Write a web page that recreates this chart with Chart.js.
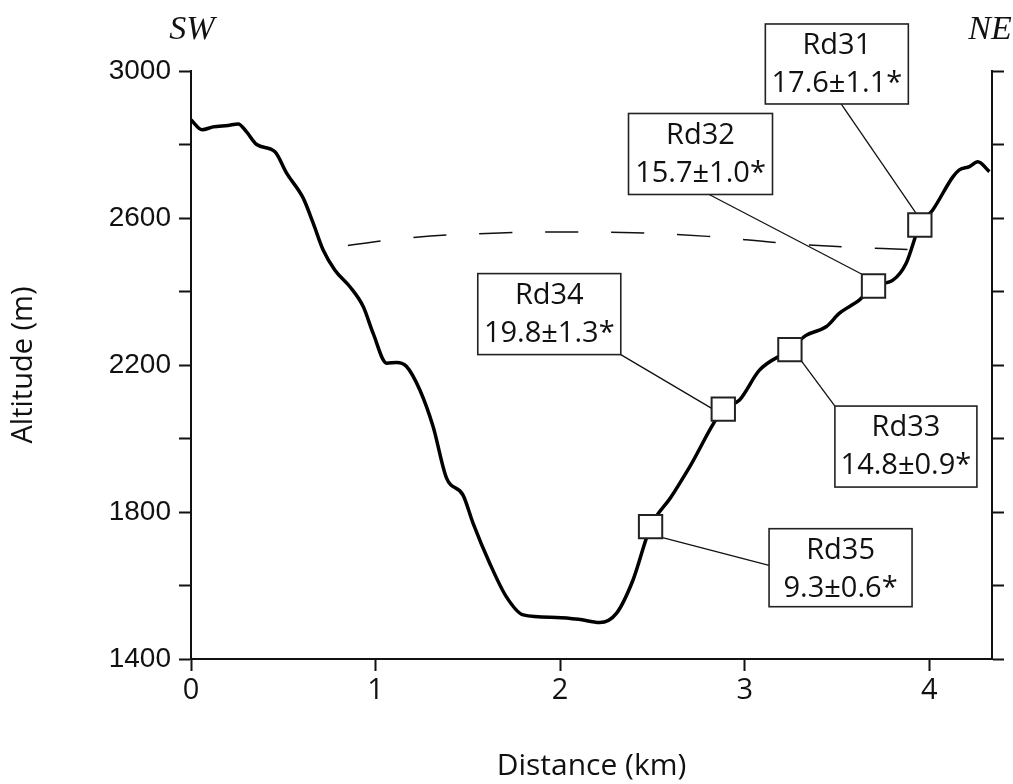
<!DOCTYPE html>
<html>
<head>
<meta charset="utf-8">
<script src="https://cdn.jsdelivr.net/npm/chart.js@4"></script>
<style>
  body { margin: 0; background: #fff; }
  #caja { width: 1013px; height: 784px; }
</style>
</head>
<body>
<div id="caja"><canvas id="perfil" width="1013" height="784"></canvas></div>
<script>
// perfil topografico SW -> NE
const distKm = [0, 0.06, 0.12, 0.2, 0.256, 0.3, 0.356, 0.455, 0.518, 0.608, 0.662, 0.716, 0.78, 0.861, 0.933, 0.987, 1.06, 1.114, 1.168, 1.24, 1.312, 1.384, 1.474, 1.528, 1.619, 1.709, 1.8, 1.98, 2.1, 2.214, 2.305, 2.395, 2.49, 2.6, 2.702, 2.884, 2.972, 3.08, 3.245, 3.33, 3.441, 3.514, 3.622, 3.698, 3.803, 3.875, 3.949, 4.019, 4.128, 4.163, 4.218, 4.263, 4.326];
const altitud = [2867, 2840, 2848, 2852, 2856, 2835, 2800, 2780, 2722, 2654, 2586, 2513, 2458, 2413, 2359, 2286, 2205, 2207, 2196, 2132, 2032, 1893, 1846, 1770, 1660, 1569, 1520, 1513, 1508, 1499, 1524, 1615, 1760, 1840, 1923, 2080, 2105, 2186, 2242, 2280, 2304, 2341, 2377, 2415, 2431, 2477, 2581, 2622, 2712, 2731, 2740, 2753, 2726];

// linea discontinua
const dashKm = [0.85, 1.2, 1.6, 2.0, 2.4, 2.8, 3.2, 3.6, 3.9];
const dashAlt = [2525, 2547, 2558, 2562, 2560, 2550, 2532, 2520, 2514];

// muestras
const etiquetas = ['Rd31', 'Rd32', 'Rd33', 'Rd34', 'Rd35'];
const valores = ['17.6±1.1*', '15.7±1.0*', '14.8±0.9*', '19.8±1.3*', '9.3±0.6*'];
const muestraKm = [3.949, 3.698, 3.245, 2.884, 2.49];
const muestraAlt = [2581, 2415, 2242, 2080, 1760];

const xTicks = [0, 1, 2, 3, 4];
const yTicks = [1400, 1800, 2200, 2600, 3000];

// posicion de cada caja respecto a su marcador (px)
const cajas = [
  { dx: -83, dy: -161, w: 143, h: 80, ax: 0.53, ay: 1, mx: -4, my: -12 },
  { dx: -173, dy: -132, w: 144, h: 81, ax: 0.56, ay: 1, mx: -12, my: -12 },
  { dx: 116, dy: 97, w: 142, h: 81, ax: 0, ay: 0, mx: 12, my: 12 },
  { dx: -174, dy: -95, w: 143, h: 81, ax: 1, ay: 1, mx: -12, my: -1 },
  { dx: 190, dy: 41, w: 143, h: 78, ax: 0, ay: 0.47, mx: 12, my: 11 }
];

const lineas = {
  id: 'lineas',
  beforeDatasetsDraw(chart) {
    const ctx = chart.ctx, x = chart.scales.x, y = chart.scales.y;
    ctx.save();
    ctx.strokeStyle = '#111';
    ctx.lineWidth = 1.3;
    cajas.forEach((c, i) => {
      const px = x.getPixelForValue(muestraKm[i]), py = y.getPixelForValue(muestraAlt[i]);
      const left = px + c.dx - c.w / 2, top = py + c.dy - c.h / 2;
      ctx.beginPath();
      ctx.moveTo(left + c.ax * c.w, top + c.ay * c.h);
      ctx.lineTo(px + c.mx, py + c.my);
      ctx.stroke();
    });
    ctx.restore();
  },
  afterDatasetsDraw(chart) {
    const ctx = chart.ctx, x = chart.scales.x, y = chart.scales.y;
    ctx.save();
    cajas.forEach((c, i) => {
      const px = x.getPixelForValue(muestraKm[i]), py = y.getPixelForValue(muestraAlt[i]);
      const left = px + c.dx - c.w / 2, top = py + c.dy - c.h / 2;
      ctx.fillStyle = '#fff';
      ctx.fillRect(left, top, c.w, c.h);
      ctx.strokeStyle = '#222';
      ctx.lineWidth = 1.6;
      ctx.strokeRect(left, top, c.w, c.h);
      ctx.fillStyle = '#111';
      ctx.font = '29px "Open Sans"';
      ctx.textAlign = 'center';
      ctx.textBaseline = 'middle';
      ctx.fillText(etiquetas[i], left + c.w / 2, top + 22);
      ctx.fillText(valores[i], left + c.w / 2, top + 60);
    });
    // SW y NE
    ctx.font = 'italic 34px "Liberation Serif"';
    ctx.fillStyle = '#111';
    ctx.textAlign = 'center';
    ctx.textBaseline = 'middle';
    ctx.fillText('SW', chart.chartArea.left + 1, 30);
    ctx.fillText('NE', chart.chartArea.right - 2, 30);
    ctx.restore();
  }
};

new Chart(document.getElementById('perfil'), {
  type: 'line',
  data: {
    datasets: [
      {
        label: 'muestras',
        data: muestraKm.map((v, i) => ({ x: v, y: muestraAlt[i] })),
        showLine: false,
        pointStyle: 'rect',
        pointRadius: 16.5,
        pointBackgroundColor: '#fff',
        pointBorderColor: '#222',
        pointBorderWidth: 2,
        order: 0
      },
      {
        label: 'perfil',
        data: distKm.map((v, i) => ({ x: v, y: altitud[i] })),
        borderColor: '#000',
        borderWidth: 3.5,
        pointRadius: 0,
        cubicInterpolationMode: 'monotone',
        order: 1
      },
      {
        label: 'nivel',
        data: dashKm.map((v, i) => ({ x: v, y: dashAlt[i] })),
        borderColor: '#111',
        borderWidth: 1.5,
        borderDash: [33, 33],
        pointRadius: 0,
        tension: 0.4,
        order: 2
      }
    ]
  },
  options: {
    responsive: false,
    animation: false,
    layout: { padding: { top: 71, left: 0, right: 0, bottom: 0 } },
    plugins: { legend: { display: false }, tooltip: { enabled: false } },
    scales: {
      x: {
        type: 'linear',
        min: 0,
        max: 4.34,
        afterBuildTicks: s => { s.ticks = xTicks.map(v => ({ value: v })); },
        afterFit: s => { s.height = 125; },
        border: { display: true, color: '#111', width: 2 },
        grid: { drawOnChartArea: false, drawTicks: true, tickLength: 12, tickWidth: 2, tickColor: '#111' },
        ticks: { color: '#111', font: { family: 'Open Sans', size: 29 }, padding: 2, maxRotation: 0 },
        title: { display: true, text: 'Distance (km)', color: '#111', font: { family: 'Open Sans', size: 30 }, padding: { top: 0, bottom: 0 } }
      },
      y: {
        min: 1400,
        max: 3000,
        afterFit: s => { s.width = 191; },
        border: { display: true, color: '#111', width: 2 },
        grid: { drawOnChartArea: false, drawTicks: true, tickLength: 12, tickWidth: 2, tickColor: '#111' },
        ticks: {
          stepSize: 200,
          color: '#111',
          font: { family: 'Liberation Sans', size: 28 },
          padding: 8,
          callback: v => (yTicks.includes(v) ? String(v) : '')
        },
        title: { display: true, text: 'Altitude (m)', color: '#111', font: { family: 'Open Sans', size: 29 }, padding: { top: 6, bottom: 0 } }
      },
      y2: {
        position: 'right',
        min: 1400,
        max: 3000,
        afterFit: s => { s.width = 21; },
        border: { display: true, color: '#111', width: 2 },
        grid: { drawOnChartArea: false, drawTicks: true, tickLength: 12, tickWidth: 2, tickColor: '#111' },
        ticks: { stepSize: 200, callback: () => '' }
      }
    }
  },
  plugins: [lineas]
});
</script>
</body>
</html>
